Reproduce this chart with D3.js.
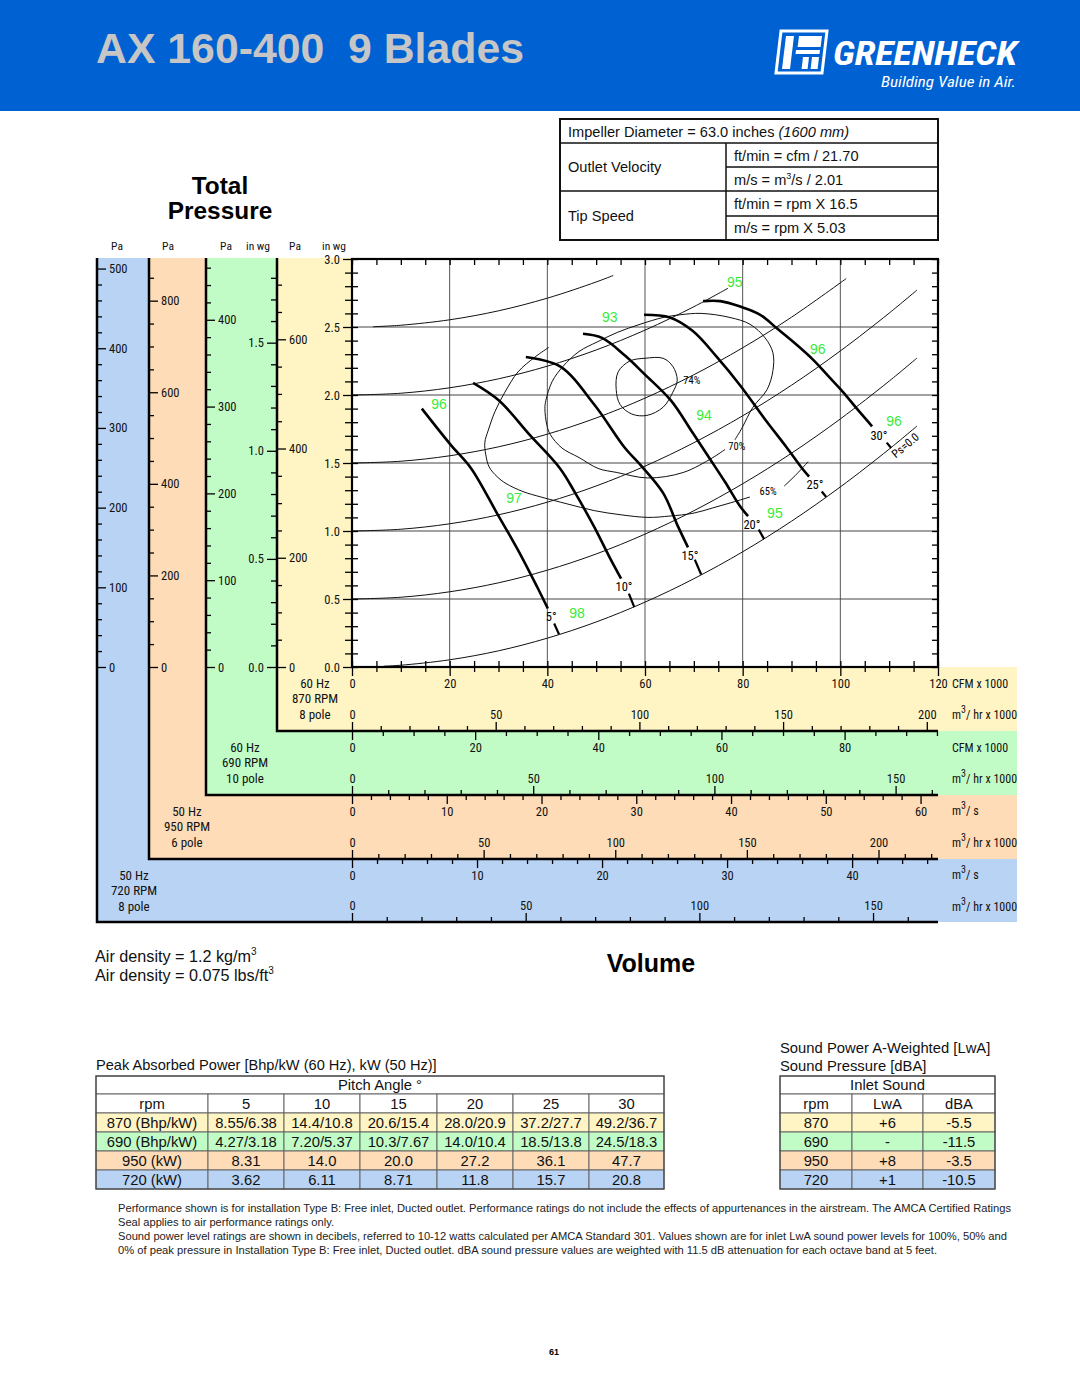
<!DOCTYPE html>
<html><head><meta charset="utf-8">
<script src="https://cdn.jsdelivr.net/npm/d3@7"></script>
<style>
body{margin:0;background:#fff;}
svg{display:block;}
</style></head><body>
<svg id="c" width="1080" height="1397"></svg>
<script>
// ---------------- DATA ----------------
const inwgMajor = [0, 0.5, 1.0, 1.5, 2.0, 2.5, 3.0];
const paMajor720 = [0, 100, 200, 300, 400, 500];
const paMajor950 = [0, 200, 400, 600, 800];
const paMajor690 = [0, 100, 200, 300, 400];
const inwgMajor690 = [0, 0.5, 1.0, 1.5];
const paMajor870 = [0, 200, 400, 600];
const cfmMajor870 = [0, 20, 40, 60, 80, 100, 120];
const m3hrMajor870 = [0, 50, 100, 150, 200];
const cfmMajor690 = [0, 20, 40, 60, 80];
const m3hrMajor690 = [0, 50, 100, 150];
const m3sMajor950 = [0, 10, 20, 30, 40, 50, 60];
const m3hrMajor950 = [0, 50, 100, 150, 200];
const m3sMajor720 = [0, 10, 20, 30, 40];
const m3hrMajor720 = [0, 50, 100, 150];
const gridCfm = [20, 40, 60, 80, 100];
const gridInwg = [0.5, 1.0, 1.5, 2.0, 2.5];

// pitch-angle fan curves [kCFM, in wg]
const pitchLabels = ["5°", "10°", "15°", "20°", "25°", "30°"];
const pitch5 = [[14.3,1.90],[20.3,1.63],[24.4,1.46],[29.7,1.13],[34.0,0.86],[37.9,0.59],[40.1,0.43]];
const pitch10 = [[24.8,2.09],[30.1,1.96],[36.3,1.71],[42.6,1.46],[45.7,1.28],[49.6,1.03],[52.7,0.81],[55.1,0.65]];
const pitch15 = [[35.6,2.28],[42.6,2.21],[49.6,1.93],[55.9,1.61],[59.2,1.48],[63.7,1.28],[66.8,1.03],[68.8,0.88]];
const pitch20 = [[47.3,2.45],[51.2,2.42],[55.9,2.29],[60.0,2.15],[65.3,1.96],[69.8,1.72],[73.3,1.53],[76.4,1.36],[79.5,1.18],[81.1,1.11]];
const pitch25 = [[59.8,2.59],[65.1,2.57],[69.8,2.47],[74.7,2.28],[79.5,2.07],[84.6,1.82],[88.9,1.62],[92.2,1.46],[93.6,1.40]];
const pitch30 = [[71.9,2.69],[75.4,2.69],[79.5,2.65],[83.6,2.59],[87.0,2.49],[90.7,2.38],[94.4,2.26],[97.5,2.14],[100.6,2.02],[103.6,1.89],[106.5,1.77]];
const pitchTicks = [
  [[41.4,0.32],[42.4,0.24]], [[56.7,0.54],[57.8,0.44]], [[70.2,0.79],[71.5,0.68]],
  [[83.3,1.01],[84.4,0.94]], [[96.2,1.29],[97.1,1.25]], [[109.5,1.65],[110.4,1.61]]
];
const pitchLabelPos = [[40.8,0.37],[55.7,0.59],[69.2,0.82],[81.9,1.05],[94.8,1.34],[107.9,1.70]];

// static pressure lines (thin)
const psZero = [[6.5,0.006],[10,0.013],[20,0.053],[30,0.119],[40,0.212],[50,0.331],[60,0.477],[70,0.649],[80,0.847],[90,1.072],[100,1.324],[110,1.602],[115.7,1.772]];
const psHalf = [[0,0.5],[10,0.513],[20,0.553],[30,0.619],[40,0.712],[50,0.831],[60,0.977],[70,1.149],[80,1.347],[90,1.572],[100,1.824],[110,2.102],[115.7,2.272]];
const psOne = [[0,1.0],[10,1.013],[20,1.053],[30,1.119],[40,1.212],[50,1.331],[60,1.477],[70,1.649],[80,1.847],[90,2.072],[100,2.324],[110,2.602],[115.7,2.772]];
const psOneHalf = [[0,1.5],[10,1.513],[20,1.553],[30,1.619],[40,1.712],[50,1.831],[60,1.977],[70,2.149],[80,2.347],[90,2.572],[101.2,2.856]];
const psTwo = [[0,2.0],[10,2.013],[20,2.053],[30,2.119],[40,2.212],[50,2.331],[60,2.477],[70,2.649],[77,2.785]];
const psTwoHalf = [[4.3,2.502],[10,2.513],[20,2.553],[30,2.619],[40,2.712],[50,2.831],[53.5,2.879]];

// efficiency contours
const eff74 = [[54.5,2.17],[56.9,2.25],[60.0,2.27],[63.7,2.27],[65.7,2.21],[66.6,2.11],[65.7,2.02],[63.7,1.91],[60.4,1.85],[57.3,1.86],[54.9,1.93],[54.1,2.04]];
const eff70 = [[78.4,1.67],[79.9,1.76],[82.1,1.91],[85.0,2.04],[86.2,2.18],[86.2,2.31],[84.6,2.42],[81.5,2.52],[77.4,2.57],[71.5,2.60],[67.2,2.59],[63.7,2.57],[59.0,2.52],[54.3,2.46],[50.2,2.39],[46.5,2.32],[43.2,2.21],[41.0,2.10],[39.7,1.96],[39.5,1.90],[39.9,1.78],[40.6,1.71],[43.0,1.61],[46.5,1.54],[50.4,1.46],[54.3,1.43],[60.6,1.39],[67.8,1.43],[73.9,1.54],[76.4,1.60]];
const eff65a = [[40.3,2.35],[37.5,2.28],[34.0,2.17],[31.3,2.02],[29.3,1.88],[27.9,1.74],[27.2,1.65],[27.4,1.56],[28.1,1.47],[29.7,1.40],[31.5,1.35],[35.0,1.29],[38.7,1.25],[44.0,1.20],[49.6,1.15],[54.9,1.12],[60.6,1.10],[65.1,1.11],[69.8,1.13],[73.9,1.17],[77.8,1.21],[81.5,1.25]];
const eff65b = [[88.5,1.33],[91.1,1.42],[93.4,1.51]];
const effLabels = ["74%", "70%", "65%"];
const effLabelPos = [[69.6,2.11],[78.8,1.62],[85.2,1.29]];

// sound power values (green)
const soundVals = ["95","93","96","96","94","96","97","95","98"];
const soundPos = [[78.4,2.83],[52.8,2.57],[95.4,2.34],[17.8,1.93],[72.1,1.85],[111.0,1.81],[33.2,1.24],[86.6,1.13],[46.1,0.40]];

// tables
const pitchCols = ["5","10","15","20","25","30"];
const powerRpm = ["870 (Bhp/kW)","690 (Bhp/kW)","950 (kW)","720 (kW)"];
const power870 = ["8.55/6.38","14.4/10.8","20.6/15.4","28.0/20.9","37.2/27.7","49.2/36.7"];
const power690 = ["4.27/3.18","7.20/5.37","10.3/7.67","14.0/10.4","18.5/13.8","24.5/18.3"];
const power950 = ["8.31","14.0","20.0","27.2","36.1","47.7"];
const power720 = ["3.62","6.11","8.71","11.8","15.7","20.8"];
const soundRpm = ["870","690","950","720"];
const soundLwA = ["+6","-","+8","+1"];
const soundDBA = ["-5.5","-11.5","-3.5","-10.5"];

// ---------------- DRAWING ----------------
const NARROW = "'Liberation Sans Narrow','Arial Narrow','Roboto Condensed','DejaVu Sans Condensed','Liberation Sans',sans-serif";
const SANS = "'Liberation Sans',Arial,Helvetica,sans-serif";
const C_Y = "#FFF5C4", C_G = "#C1FCC7", C_O = "#FDDCB7", C_B = "#B8D3F4";
const svg = d3.select("#c");

// header
svg.append("rect").attr("x",0).attr("y",0).attr("width",1080).attr("height",111).attr("fill","#0061D3");
svg.append("text").attr("x",96).attr("y",63).attr("font-family",SANS).attr("font-weight","bold")
  .attr("font-size",43).attr("fill","#C6C6C6").style("white-space","pre")
  .attr("textLength",428).attr("lengthAdjust","spacingAndGlyphs").text("AX 160-400  9 Blades");
// logo
const lg = svg.append("g").attr("fill","#fff");
lg.append("path").attr("d","M781,31 L827,31 L822,73 L776,73 Z").attr("fill","none").attr("stroke","#fff").attr("stroke-width",3);
lg.append("path").attr("d","M786,36 L794,36 L790,69 L782,69 Z");
lg.append("path").attr("d","M799,36 L822,36 L820.6,47 L797.6,47 Z");
lg.append("path").attr("d","M796,50 L820,50 L819.5,54 L795.5,54 Z");
lg.append("path").attr("d","M803,57 L809,57 L807.6,69 L801.6,69 Z");
lg.append("path").attr("d","M812,57 L819,57 L817.6,69 L810.6,69 Z");
lg.append("text").attr("x",833).attr("y",65).attr("font-family",NARROW).attr("font-weight","bold").attr("font-style","italic")
  .attr("font-size",33).attr("textLength",184).attr("lengthAdjust","spacingAndGlyphs").text("GREENHECK");
lg.append("text").attr("x",881).attr("y",87).attr("font-family",NARROW).attr("font-style","italic")
  .attr("font-size",15).attr("textLength",135).attr("lengthAdjust","spacingAndGlyphs").text("Building Value in Air.");

// info table
const info = svg.append("g").attr("font-family",SANS).attr("font-size",14.6).attr("fill","#111");
info.append("rect").attr("x",560).attr("y",119).attr("width",378).attr("height",121).attr("fill","none").attr("stroke","#111").attr("stroke-width",2);
[[560,143,938,143],[560,191,938,191],[726,143,726,240],[726,167,938,167],[726,216,938,216]].forEach(l=>
  info.append("line").attr("x1",l[0]).attr("y1",l[1]).attr("x2",l[2]).attr("y2",l[3]).attr("stroke","#111").attr("stroke-width",1.5));
const t1 = info.append("text").attr("x",568).attr("y",137);
t1.append("tspan").text("Impeller Diameter = 63.0 inches ");
t1.append("tspan").attr("font-style","italic").text("(1600 mm)");
info.append("text").attr("x",568).attr("y",172).text("Outlet Velocity");
info.append("text").attr("x",568).attr("y",221).text("Tip Speed");
info.append("text").attr("x",734).attr("y",161).text("ft/min = cfm / 21.70");
const t2 = info.append("text").attr("x",734).attr("y",185);
t2.append("tspan").text("m/s = m");
t2.append("tspan").attr("font-size",9).attr("dy",-6).text("3");
t2.append("tspan").attr("dy",6).text("/s / 2.01");
info.append("text").attr("x",734).attr("y",209).text("ft/min = rpm X 16.5");
info.append("text").attr("x",734).attr("y",233).text("m/s = rpm X 5.03");

// Total Pressure
svg.append("text").attr("x",220).attr("y",194).attr("text-anchor","middle").attr("font-family",SANS).attr("font-weight","bold").attr("font-size",24.4).text("Total");
svg.append("text").attr("x",220).attr("y",219).attr("text-anchor","middle").attr("font-family",SANS).attr("font-weight","bold").attr("font-size",24.4).text("Pressure");

// ---- scales ----
const X = d3.scaleLinear().domain([0,120]).range([352,938]);
const Y = d3.scaleLinear().domain([0,3]).range([667,259]);
const Pa720 = d3.scaleLinear().domain([0,512]).range([667,259]);
const Pa950 = d3.scaleLinear().domain([0,891]).range([667,259]);
const Pa690 = d3.scaleLinear().domain([0,470]).range([667,259]);
const In690 = d3.scaleLinear().domain([0,1.887]).range([667,259]);
const Pa870 = d3.scaleLinear().domain([0,747]).range([667,259]);
const M3hr870 = d3.scaleLinear().domain([0,203.9]).range([352,938]);
const Cfm690 = d3.scaleLinear().domain([0,95.17]).range([352,938]);
const M3hr690 = d3.scaleLinear().domain([0,161.7]).range([352,938]);
const M3s950 = d3.scaleLinear().domain([0,61.84]).range([352,938]);
const M3hr950 = d3.scaleLinear().domain([0,222.6]).range([352,938]);
const M3s720 = d3.scaleLinear().domain([0,46.87]).range([352,938]);
const M3hr720 = d3.scaleLinear().domain([0,168.7]).range([352,938]);

// bands
const bands = [
  {c:C_B, x:97, yb:922}, {c:C_O, x:149, yb:859}, {c:C_G, x:206, yb:795}, {c:C_Y, x:277, yb:731}
];
bands.forEach(b=>svg.append("rect").attr("x",b.x).attr("y",258).attr("width",1017-b.x).attr("height",b.yb-258).attr("fill",b.c));
svg.append("rect").attr("x",352).attr("y",250).attr("width",728).attr("height",417).attr("fill","#fff");

// grid
const plot = svg.append("g");
gridCfm.forEach(v=>plot.append("line").attr("x1",X(v)).attr("x2",X(v)).attr("y1",259).attr("y2",667).attr("stroke","#555").attr("stroke-width",1));
gridInwg.forEach(v=>plot.append("line").attr("y1",Y(v)).attr("y2",Y(v)).attr("x1",352).attr("x2",938).attr("stroke","#444").attr("stroke-width",1));

// curves
const line = d3.line().x(d=>X(d[0])).y(d=>Y(d[1])).curve(d3.curveCatmullRom.alpha(0.5));
const lineClosed = d3.line().x(d=>X(d[0])).y(d=>Y(d[1])).curve(d3.curveCatmullRomClosed.alpha(0.5));
const straight = d3.line().x(d=>X(d[0])).y(d=>Y(d[1]));
[psZero, psHalf, psOne, psOneHalf, psTwo, psTwoHalf, eff70, eff65a, eff65b].forEach(s=>
  plot.append("path").attr("d",line(s)).attr("fill","none").attr("stroke","#111").attr("stroke-width",1));
plot.append("path").attr("d",lineClosed(eff74)).attr("fill","none").attr("stroke","#111").attr("stroke-width",1);
[pitch5, pitch10, pitch15, pitch20, pitch25, pitch30].forEach(s=>
  plot.append("path").attr("d",line(s)).attr("fill","none").attr("stroke","#000").attr("stroke-width",2.6));
pitchTicks.forEach(s=>plot.append("path").attr("d",straight(s)).attr("fill","none").attr("stroke","#000").attr("stroke-width",2.2));
pitchLabels.forEach((t,i)=>plot.append("text").attr("x",X(pitchLabelPos[i][0])).attr("y",Y(pitchLabelPos[i][1]))
  .attr("dy","0.35em").attr("text-anchor","middle").attr("font-family",NARROW).attr("font-size",12.5).attr("fill","#000").text(t));
effLabels.forEach((t,i)=>plot.append("text").attr("x",X(effLabelPos[i][0])).attr("y",Y(effLabelPos[i][1]))
  .attr("dy","0.35em").attr("text-anchor","middle").attr("font-family",NARROW).attr("font-size",10.5).attr("fill","#000").text(t));
plot.append("text").attr("transform",`translate(${X(113.3)},${Y(1.63)}) rotate(-40)`).attr("text-anchor","middle").attr("dy","0.35em")
  .attr("font-family",NARROW).attr("font-size",11.5).attr("fill","#000").text("Ps=0.0");
soundVals.forEach((t,i)=>plot.append("text").attr("x",X(soundPos[i][0])).attr("y",Y(soundPos[i][1]))
  .attr("dy","0.35em").attr("text-anchor","middle").attr("font-family",SANS).attr("font-size",14).attr("fill","#39EB39").text(t));

// borders
bands.forEach(b=>svg.append("path").attr("d",`M${b.x},258 V${b.yb} H938`).attr("fill","none").attr("stroke","#000").attr("stroke-width",2.5));
svg.append("rect").attr("x",352).attr("y",259).attr("width",586).attr("height",408).attr("fill","none").attr("stroke","#000").attr("stroke-width",2.2);

// axes helper
function axis(kind, pos, scale, majors, minorStep, majLen, minLen, fmt) {
  const mk = {left:d3.axisLeft, right:d3.axisRight, top:d3.axisTop, bottom:d3.axisBottom}[kind];
  const vertical = kind==="left"||kind==="right";
  const g = svg.append("g").attr("transform", vertical?`translate(${pos},0)`:`translate(0,${pos})`);
  const d1 = scale.domain()[1];
  const minors = d3.range(0, d1+1e-9, minorStep).filter(v=>!majors.some(m=>Math.abs(m-v)<1e-6));
  if (minLen>0) g.append("g").call(mk(scale).tickValues(minors).tickSize(minLen).tickFormat(""))
     .call(s=>s.select(".domain").remove());
  if (majors.length) g.append("g").call(mk(scale).tickValues(majors).tickSize(majLen).tickPadding(3).tickFormat(fmt||""))
     .call(s=>s.select(".domain").remove());
  g.selectAll("line").attr("stroke","#000").attr("stroke-width",1.3);
  g.selectAll("text").attr("font-family",NARROW).attr("font-size",12.5).attr("fill","#111");
  return g;
}
const fI = d3.format(".1f"), fD = d3.format("d");
axis("right", 97, Pa720, paMajor720, 20, 9, 5, fD);
axis("right", 149, Pa950, paMajor950, 50, 9, 5, fD);
axis("right", 206, Pa690, paMajor690, 20, 9, 5, fD);
axis("left", 276, In690, inwgMajor690, 0.1, 9, 5, fI);
axis("right", 277, Pa870, paMajor870, 50, 9, 5, fD);
axis("left", 352, Y, inwgMajor, 0.1, 9, 7, fI);
axis("right", 352, Y, [], 0.1, 0, 6);
axis("left", 938, Y, [], 0.1, 0, 6);
axis("bottom", 259, X, [], 5, 0, 6);
axis("top", 667, X, [], 5, 0, 6);
axis("bottom", 667, X, cfmMajor870, 5, 9, 5, fD);
axis("top", 731, M3hr870, m3hrMajor870, 10, 9, 5, fD);
axis("bottom", 731, Cfm690, cfmMajor690, 5, 9, 5, fD);
axis("top", 795, M3hr690, m3hrMajor690, 10, 9, 5, fD);
axis("bottom", 795, M3s950, m3sMajor950, 2, 9, 5, fD);
axis("top", 859, M3hr950, m3hrMajor950, 10, 9, 5, fD);
axis("bottom", 859, M3s720, m3sMajor720, 2, 9, 5, fD);
axis("top", 922, M3hr720, m3hrMajor720, 10, 9, 5, fD);

// axis headers
[[117,"Pa"],[168,"Pa"],[226,"Pa"],[258,"in wg"],[295,"Pa"],[334,"in wg"]].forEach(h=>
  svg.append("text").attr("x",h[0]).attr("y",250).attr("text-anchor","middle").attr("font-family",NARROW).attr("font-size",11.5).attr("fill","#111").text(h[1]));

// band labels
const bandText = [
  {x:315, y:683, l:["60 Hz","870 RPM","8 pole"]},
  {x:245, y:747, l:["60 Hz","690 RPM","10 pole"]},
  {x:187, y:811, l:["50 Hz","950 RPM","6 pole"]},
  {x:134, y:875, l:["50 Hz","720 RPM","8 pole"]}
];
bandText.forEach(b=>b.l.forEach((t,i)=>svg.append("text").attr("x",b.x).attr("y",b.y+i*15.7).attr("dy","0.35em")
  .attr("text-anchor","middle").attr("font-family",NARROW).attr("font-size",13).attr("fill","#111").text(t)));

function unitLabel(y, kind){
  const t = svg.append("text").attr("x",952).attr("y",y).attr("dy","0.35em").attr("font-family",NARROW).attr("font-size",12).attr("fill","#111");
  if (kind==="cfm") { t.text("CFM x 1000"); return; }
  t.append("tspan").text("m");
  t.append("tspan").attr("font-size",10).attr("dy",-6).text("3");
  t.append("tspan").attr("dy",6).text(kind==="hr" ? "/ hr x 1000" : "/ s");
}
[[684,"cfm"],[715,"hr"],[748,"cfm"],[779,"hr"],[811,"s"],[843,"hr"],[875,"s"],[907,"hr"]].forEach(u=>unitLabel(u[0],u[1]));

// air density & Volume
function dens(y, a){
  const t = svg.append("text").attr("x",95).attr("y",y).attr("font-family",SANS).attr("font-size",16.2).attr("fill","#111");
  t.append("tspan").text(a);
  t.append("tspan").attr("font-size",10).attr("dy",-7).text("3");
}
dens(962, "Air density = 1.2 kg/m");
dens(981, "Air density = 0.075 lbs/ft");
svg.append("text").attr("x",651).attr("y",972).attr("text-anchor","middle").attr("font-family",SANS).attr("font-weight","bold").attr("font-size",25).text("Volume");

// power table
const rowFill = [C_Y, C_G, C_O, C_B];
const rowsY = [1076,1094,1113,1132,1151,1170,1189];
const colX = [96,208,284,360,437,513,589,664];
const tb = svg.append("g").attr("font-family",SANS).attr("font-size",14.8).attr("fill","#111");
svg.append("text").attr("x",96).attr("y",1070).attr("font-family",SANS).attr("font-size",14.6).attr("fill","#111")
  .text("Peak Absorbed Power [Bhp/kW (60 Hz), kW (50 Hz)]");
const powerRows = [power870, power690, power950, power720];
function cell(g, x0, x1, y0, y1, fill, txt){
  g.append("rect").attr("x",x0).attr("y",y0).attr("width",x1-x0).attr("height",y1-y0).attr("fill",fill).attr("stroke","#666").attr("stroke-width",1);
  g.append("text").attr("x",(x0+x1)/2).attr("y",(y0+y1)/2).attr("dy","0.36em").attr("text-anchor","middle").text(txt);
}
cell(tb, colX[0], colX[7], rowsY[0], rowsY[1], "#fff", "Pitch Angle °");
cell(tb, colX[0], colX[1], rowsY[1], rowsY[2], "#fff", "rpm");
pitchCols.forEach((p,j)=>cell(tb, colX[j+1], colX[j+2], rowsY[1], rowsY[2], "#fff", p));
powerRows.forEach((r,i)=>{
  cell(tb, colX[0], colX[1], rowsY[i+2], rowsY[i+3], rowFill[i], powerRpm[i]);
  r.forEach((v,j)=>cell(tb, colX[j+1], colX[j+2], rowsY[i+2], rowsY[i+3], rowFill[i], v));
});
tb.append("rect").attr("x",96).attr("y",1076).attr("width",568).attr("height",113).attr("fill","none").attr("stroke","#444").attr("stroke-width",1.2);

// sound table
svg.append("text").attr("x",780).attr("y",1053).attr("font-family",SANS).attr("font-size",14.8).attr("fill","#111").text("Sound Power A-Weighted [LwA]");
svg.append("text").attr("x",780).attr("y",1071).attr("font-family",SANS).attr("font-size",14.8).attr("fill","#111").text("Sound Pressure [dBA]");
const sx = [780,852,923,995];
const st = svg.append("g").attr("font-family",SANS).attr("font-size",14.8).attr("fill","#111");
cell(st, sx[0], sx[3], rowsY[0], rowsY[1], "#fff", "Inlet Sound");
["rpm","LwA","dBA"].forEach((h,j)=>cell(st, sx[j], sx[j+1], rowsY[1], rowsY[2], "#fff", h));
soundRpm.forEach((r,i)=>{
  [r, soundLwA[i], soundDBA[i]].forEach((v,j)=>cell(st, sx[j], sx[j+1], rowsY[i+2], rowsY[i+3], rowFill[i], v));
});
st.append("rect").attr("x",780).attr("y",1076).attr("width",215).attr("height",113).attr("fill","none").attr("stroke","#444").attr("stroke-width",1.2);

// footnotes
const notes = [
  ["Performance shown is for installation Type B: Free inlet, Ducted outlet. Performance ratings do not include the effects of appurtenances in the airstream. The AMCA Certified Ratings", 893],
  ["Seal applies to air performance ratings only.", 216],
  ["Sound power level ratings are shown in decibels, referred to 10-12 watts calculated per AMCA Standard 301. Values shown are for inlet LwA sound power levels for 100%, 50% and", 889],
  ["0% of peak pressure in Installation Type B: Free inlet, Ducted outlet. dBA sound pressure values are weighted with 11.5 dB attenuation for each octave band at 5 feet.", 819]
];
notes.forEach((n,i)=>{
  svg.append("text").attr("x",118).attr("y",1212+i*14).attr("font-family",SANS).attr("font-size",10.5).attr("fill","#222")
    .attr("textLength",n[1]).attr("lengthAdjust","spacingAndGlyphs").text(n[0]);
});
svg.append("text").attr("x",554).attr("y",1355).attr("text-anchor","middle").attr("font-family",SANS).attr("font-weight","bold").attr("font-size",9).text("61");
</script></body></html>
